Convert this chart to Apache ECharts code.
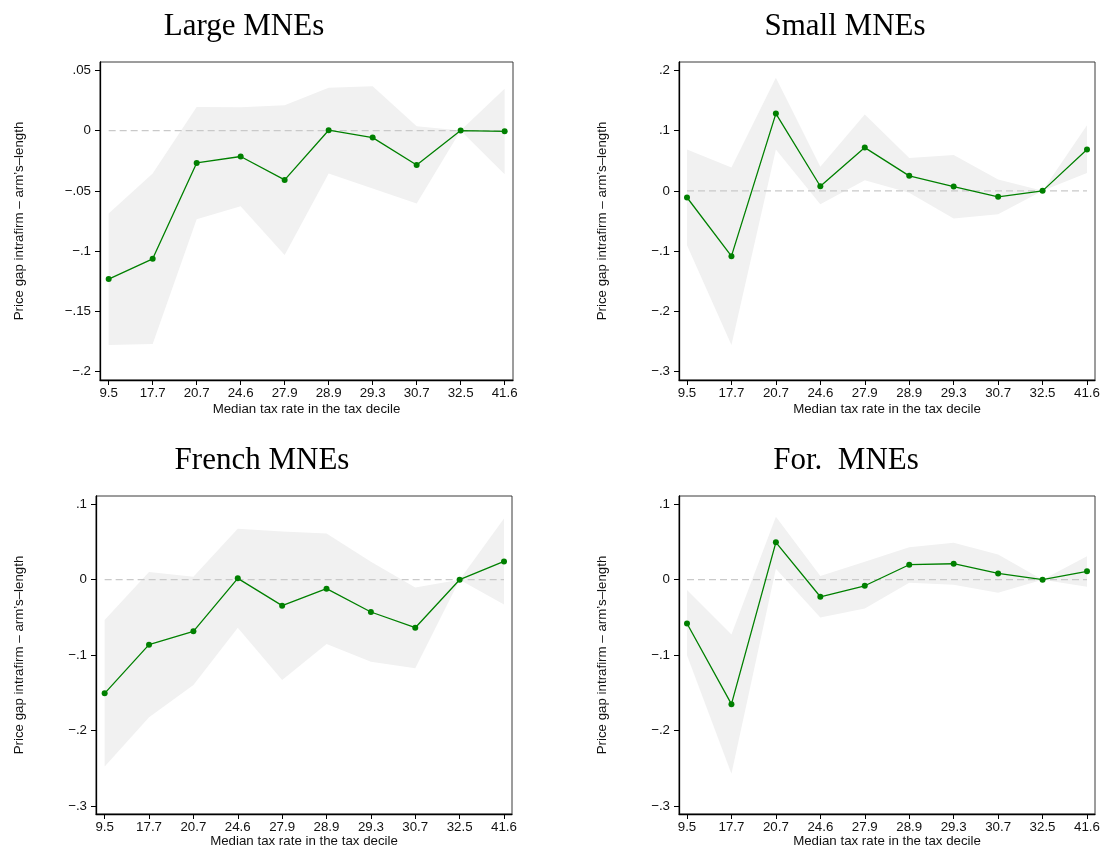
<!DOCTYPE html>
<html>
<head>
<meta charset="utf-8">
<script src="https://cdn.jsdelivr.net/npm/echarts@6/dist/echarts.min.js"></script>
<style>
html,body{margin:0;padding:0;background:#fff;}
#c{width:1104px;height:847px;}
</style>
</head>
<body>
<div id="c"></div>
<script>
// ---------- data ----------
const taxRates = ['9.5','17.7','20.7','24.6','27.9','28.9','29.3','30.7','32.5','41.6'];

const largeEst = [-0.1232,-0.1064,-0.0268,-0.0215,-0.0409,0.0003,-0.0058,-0.0285,0.0,-0.0006];
const largeHi  = [-0.0688,-0.0356,0.0196,0.0193,0.0210,0.0356,0.0367,0.0036,0.0,0.0348];
const largeLo  = [-0.1779,-0.1771,-0.0735,-0.0627,-0.1033,-0.0356,-0.0481,-0.0605,0.0,-0.0362];

const smallEst = [-0.0110,-0.1083,0.1282,0.0077,0.0718,0.0249,0.0072,-0.0099,0.0,0.0685];
const smallHi  = [0.0685,0.0387,0.1878,0.0398,0.1265,0.0547,0.0597,0.0188,0.0,0.1088];
const smallLo  = [-0.0901,-0.2558,0.0685,-0.0221,0.0177,-0.0033,-0.0459,-0.0387,0.0,0.0298];

const frenchEst = [-0.1506,-0.0861,-0.0684,0.0018,-0.0344,-0.0119,-0.0428,-0.0636,0.0,0.0243];
const frenchHi  = [-0.0534,0.0102,0.0040,0.0675,0.0640,0.0614,0.0238,-0.0102,0.0,0.0812];
const frenchLo  = [-0.2477,-0.1823,-0.1395,-0.0636,-0.1329,-0.0852,-0.1086,-0.1174,0.0,-0.0327];

const foreignEst = [-0.0580,-0.1650,0.0496,-0.0226,-0.0080,0.0199,0.0212,0.0084,0.0,0.0111];
const foreignHi  = [-0.0137,-0.0726,0.0836,0.0049,0.0239,0.0429,0.0491,0.0336,0.0,0.0310];
const foreignLo  = [-0.1000,-0.2571,0.0146,-0.0500,-0.0381,-0.0040,-0.0066,-0.0173,0.0,-0.0093];

const yTicksLarge   = [0.05, 0, -0.05, -0.1, -0.15, -0.2];
const yTicksSmall   = [0.2, 0.1, 0, -0.1, -0.2, -0.3];
const yTicksFrench  = [0.1, 0, -0.1, -0.2, -0.3];
const yTicksForeign = [0.1, 0, -0.1, -0.2, -0.3];

const titles = ['Large MNEs', 'Small MNEs', 'French MNEs', 'For.  MNEs'];
const yTitle = 'Price gap intrafirm \u2013 arm\u2019s\u2013length';
const xTitle = 'Median tax rate in the tax decile';

// ---------- layout ----------
const panels = [
  {est: largeEst, lo: largeLo, hi: largeHi, ticks: yTicksLarge,
   grid: {left: 100, top: 62, width: 413, height: 318}, yMin: -0.2069, yMax: 0.0569, xMin: 0.803, xMax: 10.19,
   titleX: 244, titleY: 27, yNameX: 19, xNameY: 409},
  {est: smallEst, lo: smallLo, hi: smallHi, ticks: yTicksSmall,
   grid: {left: 679, top: 62, width: 416, height: 318}, yMin: -0.3138, yMax: 0.2138, xMin: 0.82, xMax: 10.18,
   titleX: 845, titleY: 27, yNameX: 602, xNameY: 409},
  {est: frenchEst, lo: frenchLo, hi: frenchHi, ticks: yTicksFrench,
   grid: {left: 96, top: 496, width: 416, height: 318}, yMin: -0.3106, yMax: 0.111, xMin: 0.805, xMax: 10.18,
   titleX: 262, titleY: 461, yNameX: 19, xNameY: 841},
  {est: foreignEst, lo: foreignLo, hi: foreignHi, ticks: yTicksForeign,
   grid: {left: 679, top: 496, width: 416, height: 318}, yMin: -0.3106, yMax: 0.111, xMin: 0.82, xMax: 10.18,
   titleX: 846, titleY: 461, yNameX: 602, xNameY: 841}
];

const xIdx = taxRates.map((_, i) => i + 1);
const sansFont = '"Liberation Sans", Arial, sans-serif';
const serifFont = '"Liberation Serif", "Times New Roman", serif';
const labelSize = 13.3;

function fmtY(v) {
  const r = Math.round(v * 1000) / 1000;
  if (Math.abs(r) < 1e-9) return '0';
  let s = String(Math.abs(r)).replace(/^0/, '');
  return (r < 0 ? '\u2212' : '') + s;
}

const grids = [], xAxes = [], yAxes = [], series = [], graphics = [];

panels.forEach((p, k) => {
  grids.push(Object.assign({show: true, borderColor: '#3a3a3a', borderWidth: 1, backgroundColor: 'transparent', containLabel: false}, p.grid));
  xAxes.push({
    type: 'value', gridIndex: k, min: p.xMin, max: p.xMax,
    axisLine: {show: true, onZero: false, lineStyle: {color: '#000', width: 1.3}},
    axisTick: {show: true, length: 5, lineStyle: {color: '#000', width: 1}, customValues: xIdx},
    axisLabel: {show: true, margin: 7, color: '#111', fontFamily: sansFont, fontSize: labelSize,
      customValues: xIdx, formatter: v => taxRates[Math.round(v) - 1] || ''},
    splitLine: {show: false}
  });
  yAxes.push({
    type: 'value', gridIndex: k, min: p.yMin, max: p.yMax,
    axisLine: {show: true, onZero: false, lineStyle: {color: '#000', width: 1.3}},
    axisTick: {show: true, length: 5, lineStyle: {color: '#000', width: 1}, customValues: p.ticks},
    axisLabel: {show: true, margin: 9, color: '#111', fontFamily: sansFont, fontSize: labelSize,
      customValues: p.ticks, formatter: fmtY},
    splitLine: {show: false}
  });
  // confidence band
  series.push({
    type: 'custom', xAxisIndex: k, yAxisIndex: k, silent: true, z: 1,
    data: [[1, 0]],
    renderItem: (params, api) => {
      const pts = [];
      for (let i = 0; i < xIdx.length; i++) pts.push(api.coord([xIdx[i], p.hi[i]]));
      for (let i = xIdx.length - 1; i >= 0; i--) pts.push(api.coord([xIdx[i], p.lo[i]]));
      return {type: 'polygon', shape: {points: pts}, style: {fill: '#f1f1f1', stroke: null}};
    }
  });
  // zero reference line
  series.push({
    type: 'line', xAxisIndex: k, yAxisIndex: k, silent: true, z: 2,
    data: [[1, 0], [10, 0]], symbol: 'none',
    lineStyle: {color: '#c9c9c9', width: 1.3, type: [7, 4]}
  });
  // estimates
  series.push({
    type: 'line', xAxisIndex: k, yAxisIndex: k, z: 3,
    data: xIdx.map((x, i) => [x, p.est[i]]),
    symbol: 'circle', symbolSize: 6, showSymbol: true,
    itemStyle: {color: '#008000'},
    lineStyle: {color: '#008000', width: 1.3}
  });
  // titles
  graphics.push({
    type: 'text', x: p.titleX, y: p.titleY, silent: true,
    style: {text: titles[k], font: '31px ' + serifFont, fill: '#000',
      align: 'center', verticalAlign: 'middle', textAlign: 'center', textVerticalAlign: 'middle'}
  });
  // y axis title
  graphics.push({
    type: 'text', x: p.yNameX, y: p.grid.top + p.grid.height / 2, rotation: Math.PI / 2, silent: true,
    style: {text: yTitle, font: labelSize + 'px ' + sansFont, fill: '#111',
      align: 'center', verticalAlign: 'middle', textAlign: 'center', textVerticalAlign: 'middle'}
  });
  // x axis title
  graphics.push({
    type: 'text', x: p.grid.left + p.grid.width / 2, y: p.xNameY, silent: true,
    style: {text: xTitle, font: labelSize + 'px ' + sansFont, fill: '#111',
      align: 'center', verticalAlign: 'middle', textAlign: 'center', textVerticalAlign: 'middle'}
  });
});

const chart = echarts.init(document.getElementById('c'), null, {renderer: 'canvas', width: 1104, height: 847});
chart.setOption({
  animation: false,
  backgroundColor: '#fff',
  grid: grids,
  xAxis: xAxes,
  yAxis: yAxes,
  series: series,
  graphic: graphics
});
</script>
</body>
</html>
